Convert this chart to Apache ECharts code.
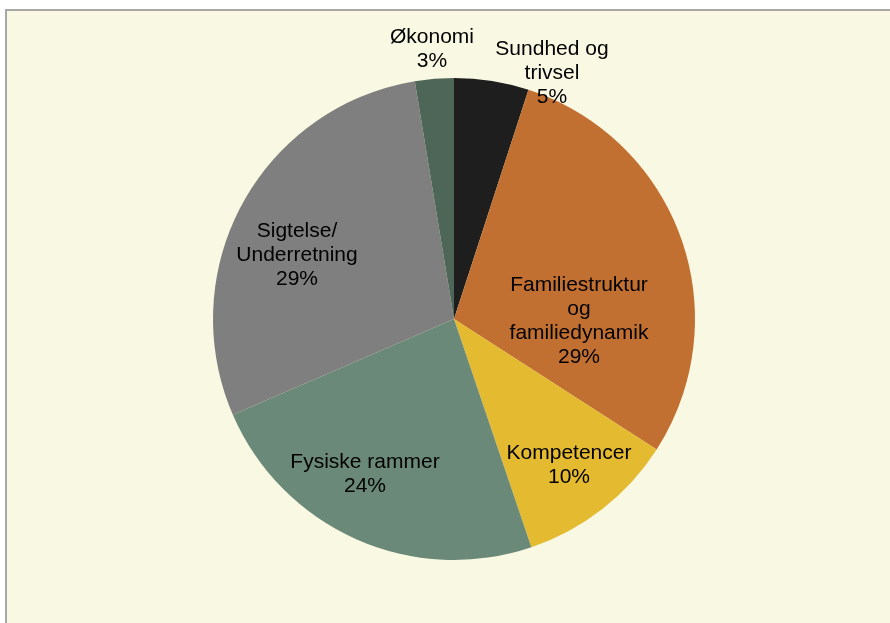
<!DOCTYPE html>
<html>
<head>
<meta charset="utf-8">
<script src="https://cdn.jsdelivr.net/npm/echarts@6/dist/echarts.min.js"></script>
<style>
  html, body { margin: 0; padding: 0; background: #ffffff; overflow: hidden; }
  #chart {
    position: absolute; left: 5px; top: 9px;
    width: 900px; height: 630px;
    background: #F9F8E2;
    border-left: 2px solid #A8A8A8;
    border-top: 2px solid #A8A8A8;
  }
</style>
</head>
<body>
<div id="chart"></div>
<script>
// kategorier, med linjeskift som i figuren
var categories = ['Sundhed og\ntrivsel', 'Familiestruktur\nog\nfamiliedynamik', 'Kompetencer', 'Fysiske rammer', 'Sigtelse/\nUnderretning', 'Økonomi'];
var values = [5.0, 29.1, 10.7, 23.7, 28.9, 2.6];
var shownPct = ['5%', '29%', '10%', '24%', '29%', '3%'];

var colors = ['#1E1E1E', '#C27032', '#E3BA30', '#6B8979', '#7F7F7F', '#4E6657'];

// placering af etiketter i forhold til cirklens centrum (px)
var cx = 447, cy = 308;
var labelOffsets = [[98, -246], [125, 2], [115, 146], [-89, 155], [-157, -64], [-22, -270]];

var myChart = echarts.init(document.getElementById('chart'));

var option = {
  backgroundColor: 'transparent',
  animation: false,
  series: [
    {
      type: 'pie',
      center: [cx, cy],
      radius: 241,
      startAngle: 90,
      clockwise: true,
      data: categories.map(function (c, i) {
        return { name: c, value: values[i], itemStyle: { color: colors[i] } };
      }),
      itemStyle: { borderWidth: 0 },
      label: {
        show: true,
        position: 'inside',
        color: '#000',
        fontFamily: 'Liberation Sans, Arial, sans-serif',
        fontSize: 21,
        lineHeight: 24,
        align: 'center',
        formatter: function (p) {
          return p.name + '\n' + shownPct[p.dataIndex];
        }
      },
      labelLine: { show: false },
      labelLayout: function (p) {
        var o = labelOffsets[p.dataIndex];
        return { x: cx + o[0], y: cy + o[1], align: 'center', verticalAlign: 'middle' };
      },
      emphasis: { disabled: true }
    }
  ]
};

myChart.setOption(option);
</script>
</body>
</html>
